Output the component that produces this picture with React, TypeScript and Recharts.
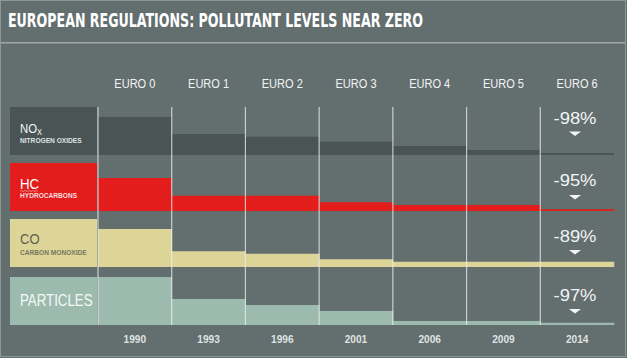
import React from 'react';
import { BarChart, Bar, XAxis, YAxis } from 'recharts';

// ---- data (values in band units, 48 = full band height) ----
const euroLabels = ['EURO 0', 'EURO 1', 'EURO 2', 'EURO 3', 'EURO 4', 'EURO 5', 'EURO 6'];
const years = ['1990', '1993', '1996', '2001', '2006', '2009', '2014'];
const noxValues = [38, 21, 18.3, 13.3, 9, 5, 2];
const hcValues = [33, 15.3, 15.3, 8.7, 6, 6, 1.7];
const coValues = [38, 15.7, 13.3, 7.7, 5.3, 5.3, 5.3];
const particleValues = [48, 26, 20, 14, 4, 4, 2.3];
const reductions = ['-98%', '-95%', '-89%', '-97%'];

const BAND = 48;
const GAP_LOW = 10;
const GAP = 8;

const W = 627;
const H = 358;
const MARGIN = { top: 77, right: 13, bottom: 3, left: 98 };
const AXIS_H = 30;
const PLOT_BOTTOM = H - MARGIN.bottom - AXIS_H;

const BG = '#636e6f';
const NOX_C = '#4a5455';
const HC_C = '#e31c1c';
const CO_C = '#ddd598';
const P_C = '#9cbbae';

const data = years.map((year, i) => ({
  year,
  euro: euroLabels[i],
  p: particleValues[i],
  pRest: BAND - particleValues[i],
  g1: GAP_LOW,
  co: coValues[i],
  coRest: BAND - coValues[i],
  g2: GAP,
  hc: hcValues[i],
  hcRest: BAND - hcValues[i],
  g3: GAP,
  nox: noxValues[i],
  noxRest: BAND - noxValues[i],
}));

const TOTAL = 4 * BAND + GAP_LOW + 2 * GAP;

const SANS = '"Liberation Sans", Arial, sans-serif';
const COND = '"DejaVu Sans Condensed", "Liberation Sans Narrow", sans-serif';

const NText = (props: any) => {
  const { x, y, sx = 0.84, children, ...rest } = props;
  return (
    <text transform={`translate(${x} ${y}) scale(${sx} 1)`} x={0} y={0} fontFamily={SANS} {...rest}>
      {children}
    </text>
  );
};

const EuroTick = (props: any) => {
  const { x, y, payload } = props;
  return (
    <NText x={x} y={y - 19} sx={0.85} textAnchor="middle" fontSize={13} fill="#f2f4f4">
      {payload.value}
    </NText>
  );
};

const YearTick = (props: any) => {
  const { x, y, payload } = props;
  return (
    <NText x={x} y={y + 18} sx={0.88} textAnchor="middle" fontWeight="bold" fontSize={11.5} fill="#dfe3e3">
      {payload.value}
    </NText>
  );
};

const ColumnShape = (props: any) => {
  const { x, y } = props;
  return (
    <line x1={x} x2={x} y1={y - 20} y2={PLOT_BOTTOM} stroke="#eef0f0" strokeOpacity={0.75} strokeWidth={1.2} />
  );
};

// band tops in pixels (layout of label boxes)
const bandTops = [107, 163, 219, 277];
const pctBaselines = [123.5, 186, 241.7, 300.7];
const triTops = [131.5, 195, 250, 309];

export default function App() {
  return (
    <div style={{ position: 'absolute', left: 0, top: 0, width: W, height: H, background: BG }}>
      <svg width={W} height={H} style={{ position: 'absolute', left: 0, top: 0 }}>
        <rect x={0.5} y={0.5} width={W - 2} height={H - 2} fill={BG} stroke="#8e9797" strokeWidth={1} />
        <rect x={1} y={42} width={W - 3} height={1.6} fill="#9ea6a6" />
        <text
          x={8}
          y={27}
          fontFamily={COND}
          fontWeight="bold"
          fontSize={20}
          fill="#ffffff"
          textLength={415}
          lengthAdjust="spacingAndGlyphs"
        >
          EUROPEAN REGULATIONS: POLLUTANT LEVELS NEAR ZERO
        </text>

        {/* label boxes */}
        <rect x={10} y={bandTops[0]} width={87} height={BAND} fill={NOX_C} />
        <rect x={10} y={bandTops[1]} width={87} height={BAND} fill={HC_C} />
        <rect x={10} y={bandTops[2]} width={87} height={BAND} fill={CO_C} />
        <rect x={10} y={bandTops[3]} width={87} height={BAND} fill={P_C} />

        <NText x={20} y={132.5} sx={0.84} fontSize={13.5} fill="#f4f6f6">
          NO<tspan fontSize={9} dy={2}>X</tspan>
        </NText>
        <text x={20} y={142.7} fontFamily={SANS} fontWeight="bold" fontSize={6.6} fill="#dfe3e3">
          NITROGEN OXIDES
        </text>

        <NText x={20} y={189} sx={0.86} fontSize={15.5} fill="#ffffff">
          HC
        </NText>
        <path d="M20 191 q1 -1 2 0 t2 0 t2 0 t2 0 t2 0 t2 0 t2 0 t2 0 t2 0" stroke="#f3a0a0" strokeWidth={0.7} fill="none" />
        <text x={20} y={198.3} fontFamily={SANS} fontWeight="bold" fontSize={6.6} fill="#f6dede">
          HYDROCARBONS
        </text>

        <NText x={20} y={244.3} sx={0.9} fontSize={14.5} fill="#5f5f4e">
          CO
        </NText>
        <text x={20} y={254.7} fontFamily={SANS} fontWeight="bold" fontSize={6.6} fill="#787660">
          CARBON MONOXIDE
        </text>

        <NText x={20} y={306} sx={0.83} fontSize={16} fill="#f6f8f8">
          PARTICLES
        </NText>

        {reductions.map((r, i) => (
          <g key={r}>
            <text
              x={575}
              y={pctBaselines[i]}
              textAnchor="middle"
              fontFamily={SANS}
              fontSize={17}
              fill="#f2f4f4"
              textLength={43}
              lengthAdjust="spacingAndGlyphs"
            >
              {r}
            </text>
            <polygon
              points={`${569},${triTops[i]} ${581},${triTops[i]} ${575},${triTops[i] + 4.5}`}
              fill="#f4f6f6"
            />
          </g>
        ))}
      </svg>

      <div style={{ position: 'absolute', left: 0, top: 0 }}>
        <BarChart width={W} height={H} data={data} margin={MARGIN} barCategoryGap={0} barGap={0}>
          <XAxis
            xAxisId="top"
            orientation="top"
            dataKey="euro"
            height={AXIS_H}
            axisLine={false}
            tickLine={false}
            tickSize={0}
            tickMargin={0}
            interval={0}
            tick={<EuroTick />}
          />
          <XAxis
            dataKey="year"
            height={AXIS_H}
            axisLine={false}
            tickLine={false}
            tickSize={0}
            tickMargin={0}
            interval={0}
            tick={<YearTick />}
          />
          <YAxis hide domain={[0, TOTAL]} type="number" allowDataOverflow />
          <Bar dataKey="p" stackId="s" fill={P_C} isAnimationActive={false} />
          <Bar dataKey="pRest" stackId="s" fill="transparent" isAnimationActive={false} />
          <Bar dataKey="g1" stackId="s" fill="transparent" isAnimationActive={false} />
          <Bar dataKey="co" stackId="s" fill={CO_C} isAnimationActive={false} />
          <Bar dataKey="coRest" stackId="s" fill="transparent" isAnimationActive={false} />
          <Bar dataKey="g2" stackId="s" fill="transparent" isAnimationActive={false} />
          <Bar dataKey="hc" stackId="s" fill={HC_C} isAnimationActive={false} />
          <Bar dataKey="hcRest" stackId="s" fill="transparent" isAnimationActive={false} />
          <Bar dataKey="g3" stackId="s" fill="transparent" isAnimationActive={false} />
          <Bar dataKey="nox" stackId="s" fill={NOX_C} isAnimationActive={false} />
          <Bar dataKey="noxRest" stackId="s" fill="transparent" isAnimationActive={false} shape={<ColumnShape />} />
        </BarChart>
      </div>
    </div>
  );
}
